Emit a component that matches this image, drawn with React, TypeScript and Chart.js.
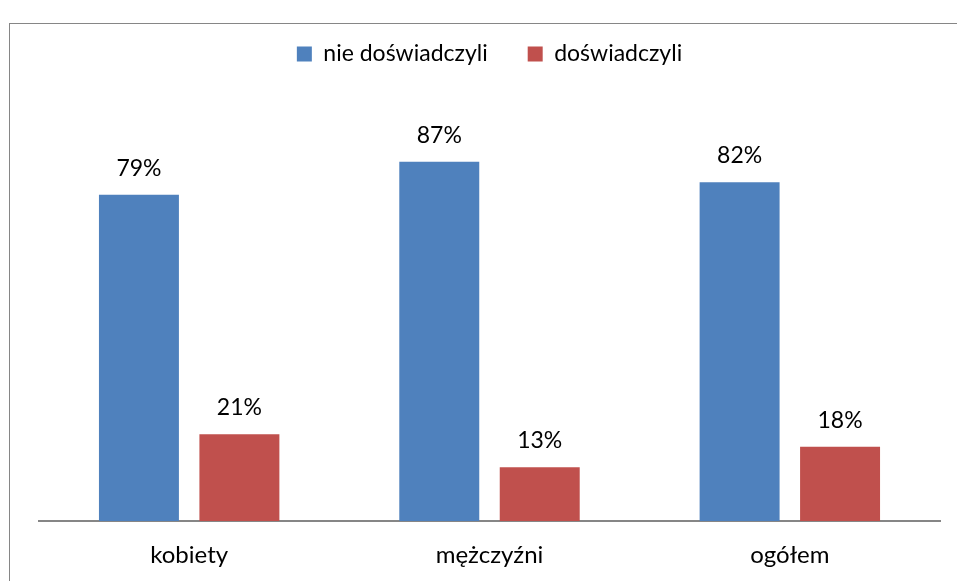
import React, { useEffect, useRef } from "react";
import { Chart, registerables } from "chart.js";

Chart.register(...registerables);

const categories = ["kobiety", "mężczyźni", "ogółem"];
const seriesNames = ["nie doświadczyli", "doświadczyli"];
const notExperienced = [0.79, 0.87, 0.82];
const experienced = [0.21, 0.13, 0.18];
const colors = ["#4F81BD", "#C0504D"];

const FONT = "Lato";

const framePlugin = {
  id: "frame",
  beforeDraw(chart: any) {
    const ctx = chart.ctx;
    ctx.save();
    ctx.fillStyle = "#ffffff";
    ctx.fillRect(0, 0, chart.width, chart.height);
    ctx.strokeStyle = "#868686";
    ctx.lineWidth = 1;
    ctx.strokeRect(9.5, 23.5, 2000, 2000);
    ctx.restore();
  },
};

const valueLabels = {
  id: "valueLabels",
  afterDatasetsDraw(chart: any) {
    const ctx = chart.ctx;
    ctx.save();
    ctx.font = `23px ${FONT}`;
    ctx.fillStyle = "#000000";
    ctx.textAlign = "center";
    ctx.textBaseline = "alphabetic";
    chart.data.datasets.forEach((ds: any, i: number) => {
      const meta = chart.getDatasetMeta(i);
      meta.data.forEach((bar: any, j: number) => {
        const v = ds.data[j];
        ctx.fillText(`${Math.round(v * 100)}%`, bar.x, bar.y - 19);
      });
    });
    ctx.restore();
  },
};

export default function App() {
  const ref = useRef<HTMLCanvasElement>(null);
  useEffect(() => {
    let chart: any = null;
    let cancelled = false;
    const make = () => {
      if (cancelled || !ref.current) return;
      chart = new Chart(ref.current, {
        type: "bar",
        data: {
          labels: categories,
          datasets: [
            { label: seriesNames[0], data: notExperienced, backgroundColor: colors[0] },
            { label: seriesNames[1], data: experienced, backgroundColor: colors[1] },
          ],
        },
        options: {
          responsive: false,
          animation: false,
          devicePixelRatio: 1,
          layout: { padding: { left: 39, right: 17, top: 2.5, bottom: 0 } },
          datasets: { bar: { categoryPercentage: 0.669, barPercentage: 0.796 } },
          plugins: {
            legend: {
              position: "top",
              labels: {
                font: { family: FONT, size: 23 },
                color: "#000000",
                boxWidth: 15,
                boxHeight: 15,
                padding: 40,
              },
            },
            title: {
              display: true,
              text: " ",
              position: "top",
              weight: 500,
              font: { family: FONT, size: 10, lineHeight: 1 },
              padding: { top: 5, bottom: 17.5 },
            },
            tooltip: { enabled: false },
          },
          scales: {
            y: { display: false, min: 0, max: 1 },
            x: {
              grid: { display: false, drawTicks: false },
              border: { display: true, color: "#868686", width: 2 },
              ticks: { font: { family: FONT, size: 24 }, color: "#000000", padding: 20 },
              afterFit(scale: any) {
                scale.height = 60;
              },
            },
          },
        },
        plugins: [framePlugin, valueLabels],
      } as any);
    };
    Promise.all([
      (document as any).fonts.load(`23px ${FONT}`),
      (document as any).fonts.load(`24px ${FONT}`),
    ]).then(make, make);
    return () => {
      cancelled = true;
      if (chart) chart.destroy();
    };
  }, []);
  return (
    <div style={{ position: "fixed", left: 0, top: 0, width: 957, height: 581 }}>
      <canvas ref={ref} width={957} height={581} />
    </div>
  );
}
